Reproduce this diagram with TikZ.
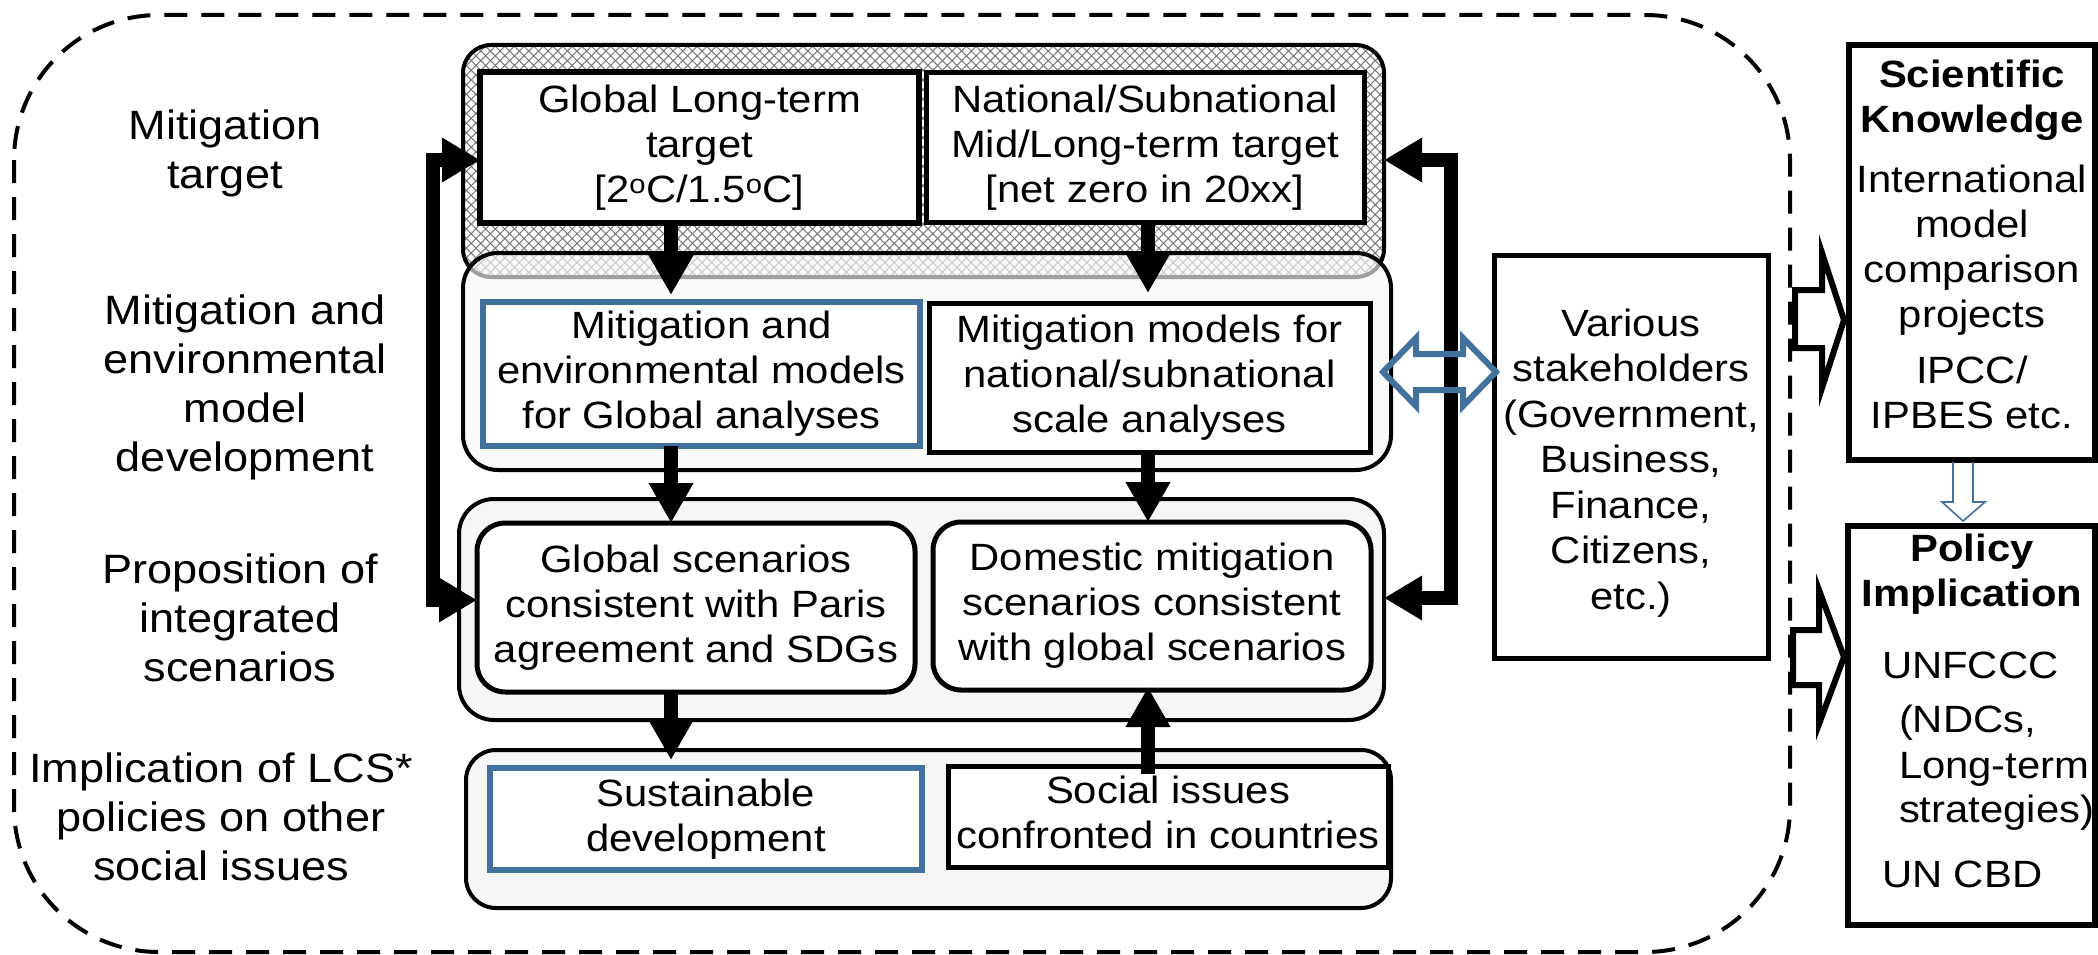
\documentclass[tikz,border=0pt]{standalone}
\usepackage{fontspec}
\setmainfont{Liberation Sans}[FakeStretch=1.1]
\usetikzlibrary{arrows.meta,patterns.meta}
\definecolor{pptblue}{RGB}{65,113,156}
\definecolor{panelgray}{RGB}{246,246,246}
\newcommand\boxstrut{\rule[-8pt]{0pt}{43.2pt}}
\newcommand\labstrut{\rule[-8.6pt]{0pt}{46.6pt}}

\begin{document}
\begin{tikzpicture}[x=1pt,y=-1pt,
  every node/.style={inner sep=0pt, outer sep=0pt},
  lab/.style={align=center, font=\fontsize{41}{49}\selectfont,
    execute at begin node=\labstrut, execute at end node=\labstrut},
  txt/.style={align=center, font=\fontsize{38}{45}\selectfont,
    execute at begin node=\boxstrut, execute at end node=\boxstrut},
  plain/.style={font=\fontsize{38}{45}\selectfont},
  box/.style={draw, line width=5pt, fill=white, txt},
  bluebox/.style={box, draw=pptblue, line width=6pt},
  panel/.style={draw, line width=4pt, fill=panelgray},
  hatch/.style={pattern={Lines[angle=#1,distance=6.8pt,line width=1.05pt]}, pattern color=black!52},
  bigarrow/.style={line width=14pt, -{Triangle[length=40pt,width=42pt]}},
  looparrow/.style={line width=14pt, line join=miter,
    {Triangle[length=38pt,width=42pt]}-{Triangle[length=38pt,width=42pt]}},
  blockarrow/.style={draw, line width=6pt, fill=white, line join=miter},
  bluearrow/.style={draw=pptblue, line width=6pt, line join=miter},
  thinarrow/.style={draw=pptblue, line width=1.6pt, line join=miter},
]
\useasboundingbox (0,0) rectangle (2098,955);

% outer dashed frame
\draw[line width=4pt, dash pattern=on 23pt off 14pt, rounded corners=145pt] (14,15) rectangle (1790,952);

% row labels
\node[lab] (lab1) at (225,153) {Mitigation\\target};
\node[lab] (lab2) at (245,387) {Mitigation and\\environmental\\model\\development};
\node[lab] (lab3) at (240,622) {Proposition of\\integrated\\scenarios};
\node[lab] (lab4) at (221,821) {Implication of LCS*\\policies on other\\social issues};

% row panels
\node[draw, line width=4pt, rounded corners=28pt, minimum width=921pt, minimum height=232pt,
  preaction={fill=white}, preaction={hatch=45}, preaction={hatch=-45}] (c1) at (923.5,161) {};
\node[draw, line width=4pt, rounded corners=35pt, minimum width=928pt, minimum height=217pt,
  fill=white!97!black, fill opacity=0.65, draw opacity=1] (c2) at (927,361.5) {};
\node[panel, rounded corners=35pt, minimum width=925pt, minimum height=221pt] (c3) at (921.5,609.5) {};
\node[panel, rounded corners=30pt, minimum width=925pt, minimum height=158pt] (c4) at (928.5,829) {};

% boxes inside the panels
\node[box, line width=6.5pt, minimum width=439pt, minimum height=151pt] (glt) at (699.5,147.5)
  {Global Long-term\\target\\{[}2\textsuperscript{o}C/1.5\textsuperscript{o}C]};
\node[box, minimum width=438pt, minimum height=149pt] (nat) at (1145,147.5)
  {National/Subnational\\Mid/Long-term target\\{[}net zero in 20xx]};
\node[bluebox, minimum width=437pt, minimum height=144pt] (gmod) at (701.5,374)
  {Mitigation and\\environmental models\\for Global analyses};
\node[box, minimum width=441pt, minimum height=149pt] (nmod) at (1149.5,377.5)
  {Mitigation models for\\national/subnational\\scale analyses};
\node[box, rounded corners=28pt, minimum width=438pt, minimum height=169pt] (gscen) at (696,607.5)
  {Global scenarios\\consistent with Paris\\agreement and SDGs};
\node[box, rounded corners=28pt, minimum width=438pt, minimum height=168pt] (dscen) at (1152,606)
  {Domestic mitigation\\scenarios consistent\\with global scenarios};
\node[bluebox, minimum width=432pt, minimum height=102pt] (sust) at (706,819)
  {Sustainable\\development};
\node[box, minimum width=440pt, minimum height=101pt] (soc) at (1168,816.5)
  {Social issues\\confronted in countries};

% stakeholders
\node[box, minimum width=274pt, minimum height=403pt] (stake) at (1631,456.5) {};
\node[txt, font=\fontsize{38}{45.5}\selectfont] (staket) at (1631,463)
  {Various\\stakeholders\\(Government,\\Business,\\Finance,\\Citizens,\\etc.)};

% scientific knowledge
\node[box, line width=5.5pt, minimum width=246pt, minimum height=415pt] (sci) at (1972,252.5) {};
\node[txt] (scit) at (1972,248)
  {\textbf{Scientific}\\\textbf{Knowledge}\\[15pt]International\\model\\comparison\\projects\\[11pt]IPCC/\\IPBES etc.};

% policy implication
\node[box, line width=5.5pt, minimum width=247pt, minimum height=399pt] (pol) at (1971.5,725.5) {};
\node[txt] (polt) at (1972,574) {\textbf{Policy}\\\textbf{Implication}};
\node[plain, anchor=base west] (unf) at (1882,678) {UNFCCC};
\node[plain, anchor=base west] (ndc1) at (1899,732) {(NDCs,};
\node[plain, anchor=base west] (ndc2) at (1899,778) {Long-term};
\node[plain, anchor=base west] (ndc3) at (1899,822) {strategies)};
\node[plain, anchor=base west] (cbd) at (1882,887) {UN CBD};

% vertical flow arrows
\coordinate (lx) at (671,0);
\coordinate (rx) at (1148,0);
\draw[bigarrow, shorten >=7pt] (glt.south -| lx) -- (gmod.north -| lx);
\draw[bigarrow, shorten >=10pt] (nat.south -| rx) -- (nmod.north -| rx);
\draw[bigarrow] (gmod.south -| lx) -- (gscen.north -| lx);
\draw[bigarrow] (nmod.south -| rx) -- (dscen.north -| rx);
\draw[bigarrow, shorten >=8pt] (gscen.south -| lx) -- (sust.north -| lx);
\draw[bigarrow, shorten <=-8pt, shorten >=-3pt] (soc.north -| rx) -- (dscen.south -| rx);

% feedback loops
\coordinate (ltop) at (433,160);
\coordinate (lbot) at (433,600);
\draw[looparrow] (glt.west |- ltop) -- (ltop) -- (lbot) -- (gscen.west |- lbot);
\coordinate (rtop) at (1451,160);
\coordinate (rbot) at (1451,598);
\draw[looparrow] (c1.east |- rtop) -- (rtop) -- (rbot) -- (c3.east |- rbot);

% exchange with stakeholders
\coordinate (dl) at (1383,372);
\coordinate (dr) at (1496,372);
\draw[bluearrow] (dl) -- (1416,338) -- (1416,354) -- (1463,354) -- (1463,338) -- (dr)
  -- (1463,406) -- (1463,390) -- (1416,390) -- (1416,406) -- cycle;

% outputs to knowledge and policy
\coordinate (ka) at (1844,320);
\path[blockarrow] (1795,290) -- (1822,290) -- (1822,253) -- (ka) -- (1822,388) -- (1822,348) -- (1795,348) -- cycle;
\coordinate (pa) at (1844,657);
\path[blockarrow] (1793,630) -- (1819,630) -- (1819,590) -- (pa) -- (1819,724) -- (1819,685) -- (1793,685) -- cycle;

% knowledge feeds policy
\coordinate (ba) at (1963,521);
\draw[thinarrow] (1953,462) -- (1953,502) -- (1942,502) -- (ba) -- (1985,502) -- (1973,502) -- (1973,462);
\end{tikzpicture}
\end{document}
